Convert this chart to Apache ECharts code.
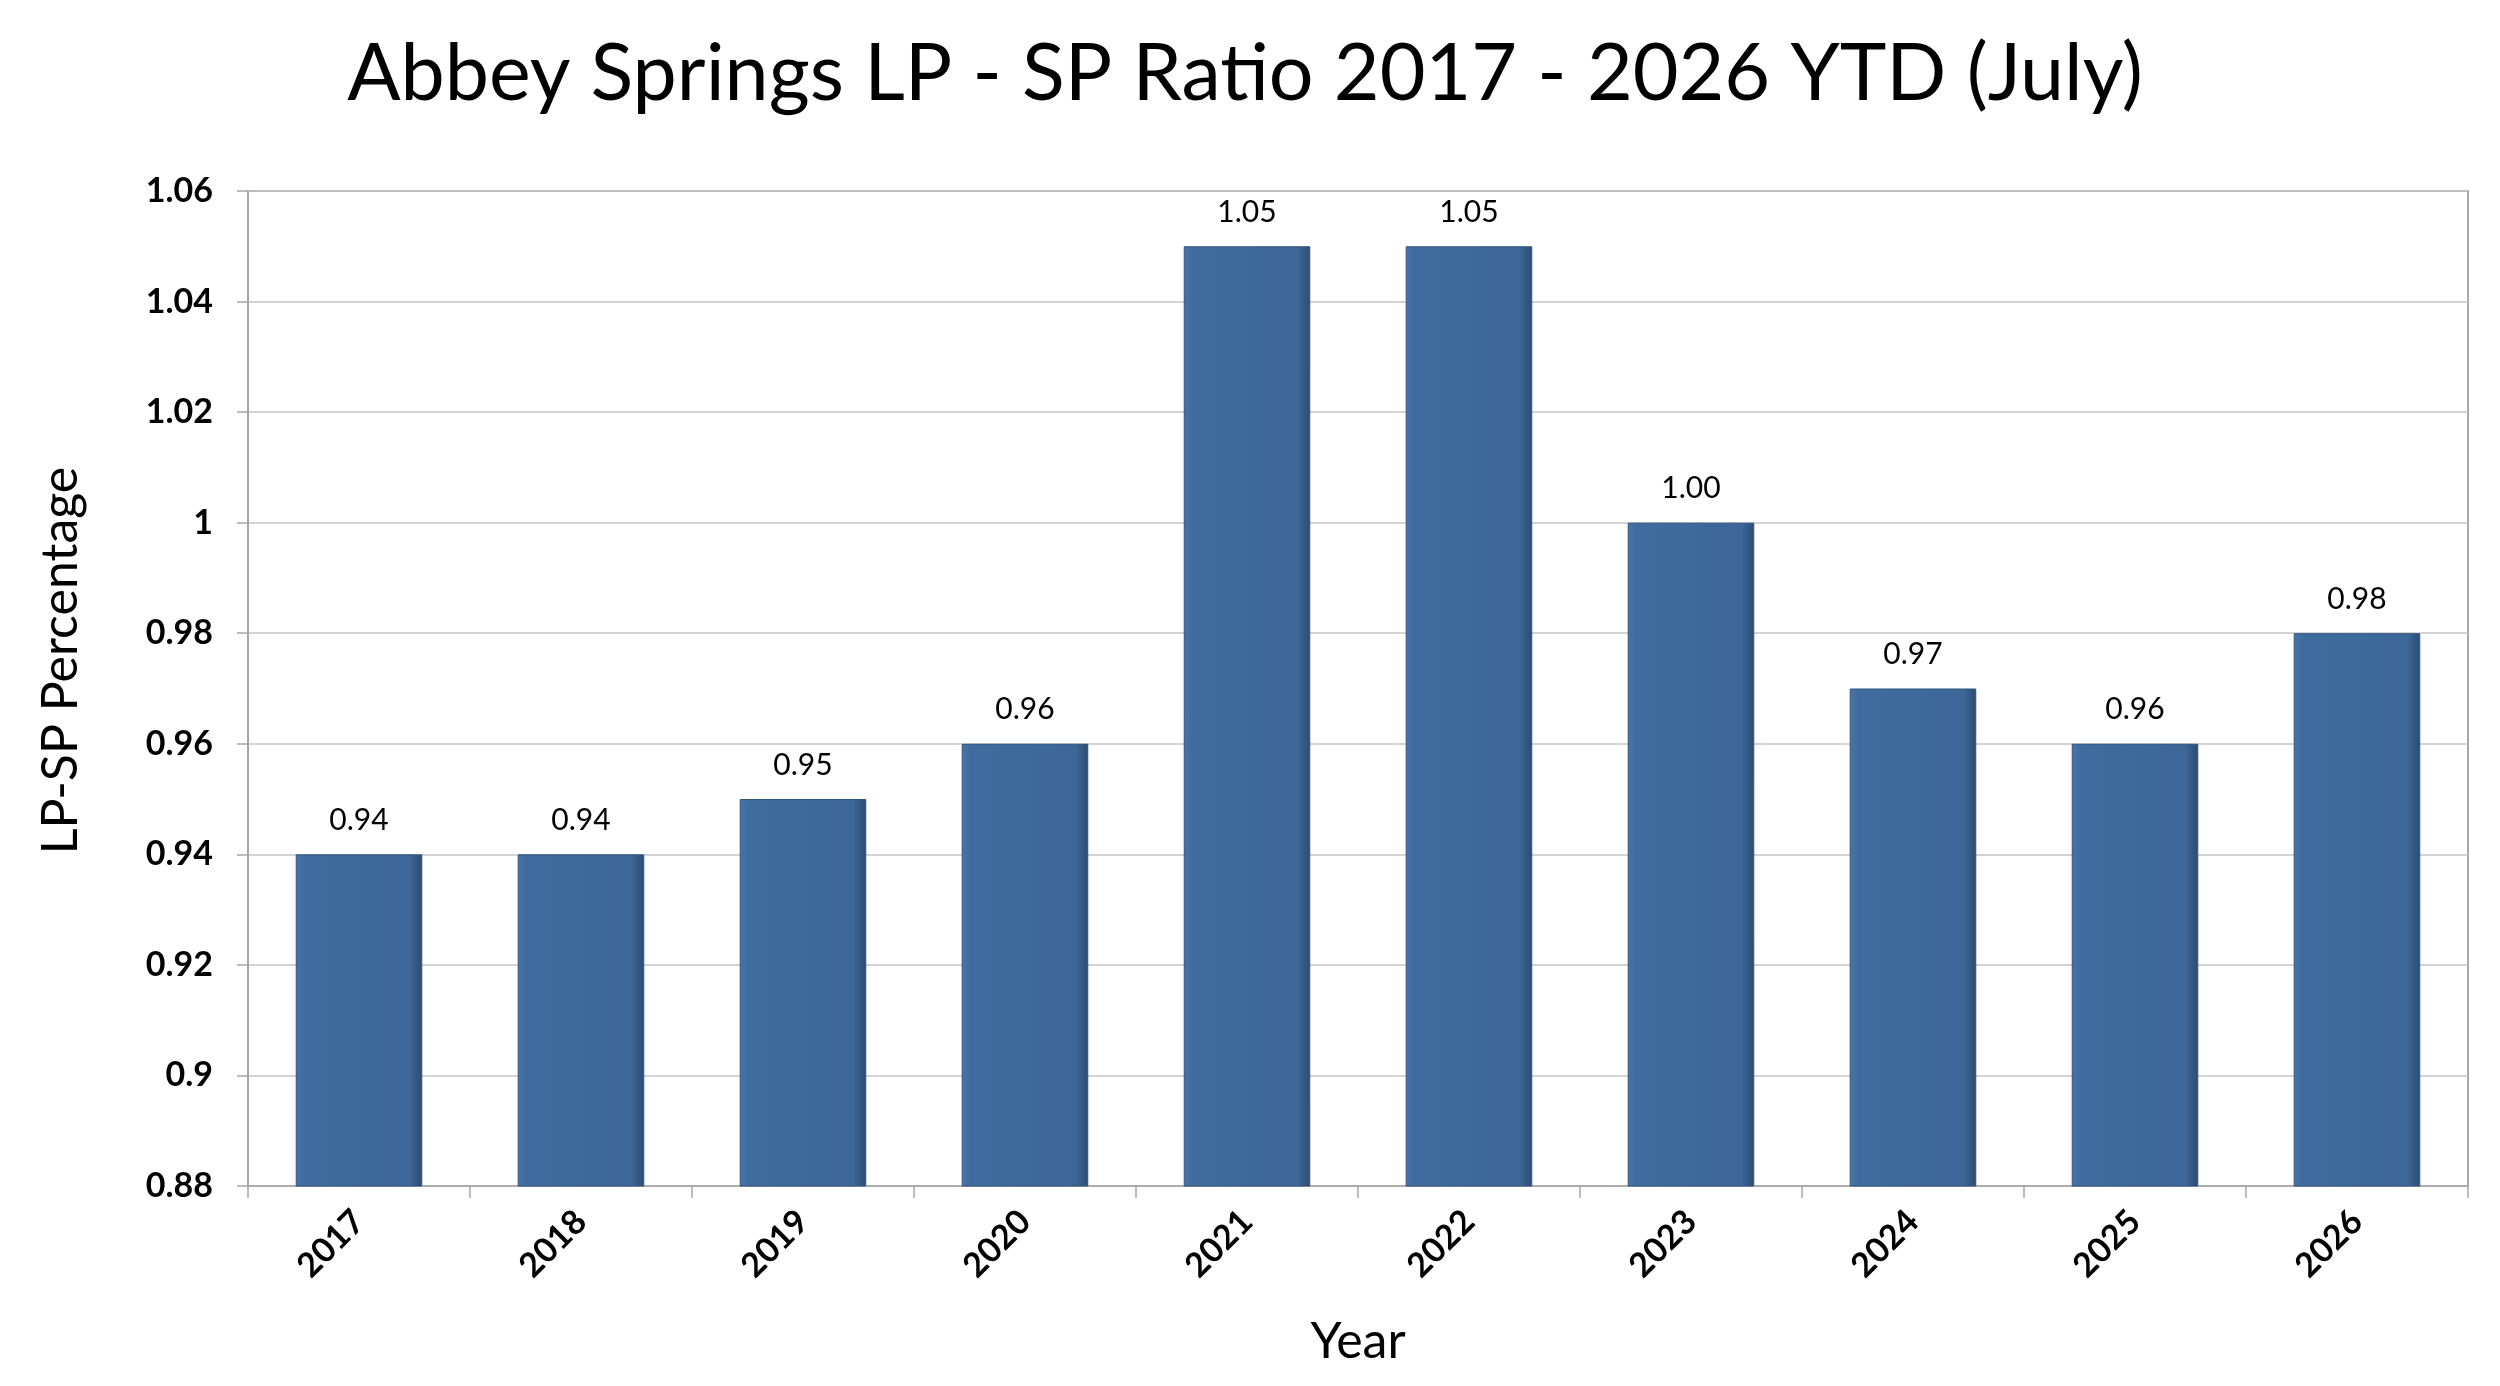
<!DOCTYPE html>
<html>
<head>
<meta charset="utf-8">
<script src="https://cdn.jsdelivr.net/npm/echarts@6/dist/echarts.min.js"></script>
<style>
html,body{margin:0;padding:0;background:#fff;}
#chart{width:2500px;height:1386px;}
</style>
</head>
<body>
<div id="chart"></div>
<script>
const categories = ['2017','2018','2019','2020','2021','2022','2023','2024','2025','2026'];
const ratioValues = [0.94,0.94,0.95,0.96,1.05,1.05,1.00,0.97,0.96,0.98];
const yMin = 0.88, yMax = 1.06, yStep = 0.02;

const chart = echarts.init(document.getElementById('chart'));
const FONT = 'Lato';
chart.setOption({
  backgroundColor: '#ffffff',
  animation: false,
  title: {
    text: 'Abbey Springs LP - SP Ratio 2017 - 2026 YTD (July)',
    left: 1240, top: 30, textAlign: 'center',
    textStyle: {fontFamily: FONT, fontSize: 79, fontWeight: 'normal', color: '#000'}
  },
  grid: {left: 248, right: 32, top: 191, bottom: 200, show: true, borderColor: '#8c8c8c', borderWidth: 1.5,
    outerBoundsMode: 'none', containLabel: false},
  xAxis: {
    type: 'category', data: categories,
    name: 'Year', nameLocation: 'middle', nameGap: 131,
    nameTextStyle: {fontFamily: FONT, fontSize: 50, color: '#000'},
    axisLine: {lineStyle: {color: '#a6a6a6', width: 1.5}},
    axisTick: {show: true, alignWithLabel: false, length: 12, lineStyle: {color: '#a6a6a6', width: 1.5}},
    axisLabel: {rotate: 45, margin: 30, fontFamily: FONT, fontWeight: 'bold', fontSize: 34, color: '#000'}
  },
  yAxis: {
    type: 'value', min: yMin, max: yMax, interval: yStep,
    name: 'LP-SP Percentage', nameLocation: 'middle', nameGap: 162, nameRotate: 90,
    nameTextStyle: {fontFamily: FONT, fontSize: 50, color: '#000', padding: [0,0,0,56]},
    axisLine: {show: true, lineStyle: {color: '#a6a6a6', width: 1.5}},
    axisTick: {show: true, length: 11, lineStyle: {color: '#a6a6a6', width: 1.5}},
    splitLine: {lineStyle: {color: '#c4c4c4', width: 1.5}},
    axisLabel: {margin: 35, fontFamily: FONT, fontWeight: 'bold', fontSize: 34, color: '#000',
      formatter: v => String(parseFloat(v.toFixed(2)))}
  },
  series: [{
    type: 'bar', data: ratioValues, barWidth: '57%',
    itemStyle: {
      color: new echarts.graphic.LinearGradient(0,0,1,0,[
        {offset: 0, color: '#4874a8'},
        {offset: 0.07, color: '#3f6b9e'},
        {offset: 0.9, color: '#3c6798'},
        {offset: 1, color: '#2c4b73'}
      ]),
      borderColor: '#2f527c', borderWidth: 1
    },
    label: {show: true, position: 'top', distance: 19, fontFamily: FONT, fontSize: 30, color: '#000',
      formatter: p => p.value.toFixed(2)}
  }]
});
</script>
</body>
</html>
